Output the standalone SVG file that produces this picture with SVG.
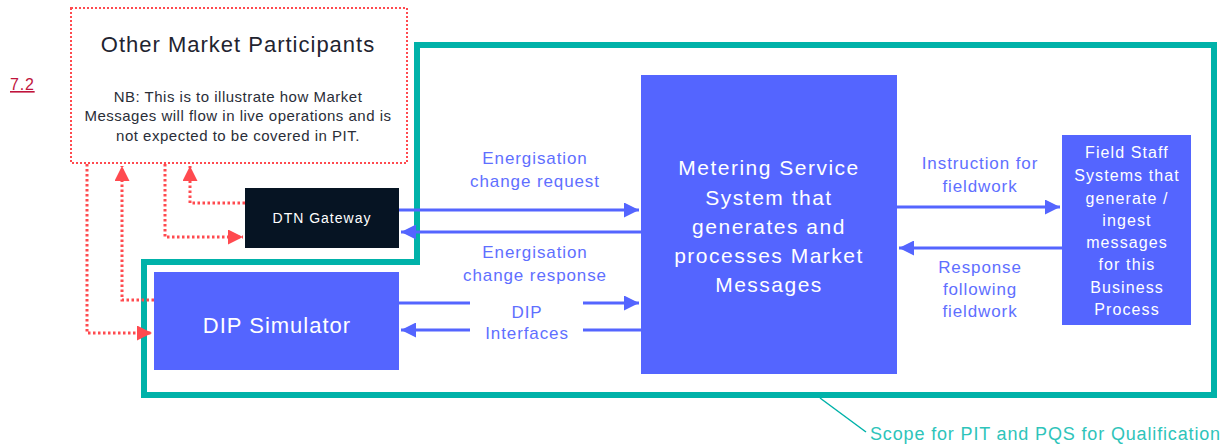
<svg xmlns="http://www.w3.org/2000/svg" width="1224" height="446" viewBox="0 0 1224 446">
<defs>
<style>
text{font-family:"Liberation Sans",Arial,sans-serif}
.lbl{fill:#5F6FFF;font-size:17px;letter-spacing:0.9px;text-anchor:middle}
.wt{fill:#FFFFFF;text-anchor:middle}
.red{fill:none;stroke:#FF4A4F;stroke-width:3;stroke-dasharray:2.5 2.5}
.blue{fill:none;stroke:#5465FF;stroke-width:3}
</style>
<marker id="ab" viewBox="0 0 10 10" refX="10" refY="5" markerWidth="5" markerHeight="5" orient="auto" markerUnits="strokeWidth"><path d="M0,0 L10,5 L0,10 z" fill="#5465FF"/></marker>
<marker id="ar" viewBox="0 0 10 10" refX="10" refY="5" markerWidth="5" markerHeight="5" orient="auto" markerUnits="strokeWidth"><path d="M0,0 L10,5 L0,10 z" fill="#FF4A4F"/></marker>
</defs>
<rect width="1224" height="446" fill="#FFFFFF"/>
<text x="10" y="90" font-size="16" letter-spacing="0.8" fill="#C0143C" text-decoration="underline">7.2</text>
<g id="scope">
<path d="M417,45 H1214 V395 H144 V262 H417 Z" fill="none" stroke="#00B2A9" stroke-width="6"/>
<path d="M820,398 L866,432" stroke="#00B2A9" stroke-width="1.5" fill="none"/>
<text x="870" y="440" font-size="18" letter-spacing="0.85" fill="#2EC4BA">Scope for PIT and PQS for Qualification</text>
</g>
<g id="other-market-participants">
<rect x="71" y="8" width="336" height="155" fill="#FFFFFF" stroke="#FF4A4F" stroke-width="2" stroke-dasharray="2 2"/>
<text x="238" y="52" font-size="22" letter-spacing="1" fill="#1F2430" text-anchor="middle">Other Market Participants</text>
<text font-size="15" letter-spacing="0.5" fill="#2A2E38" text-anchor="middle"><tspan x="238" y="102">NB: This is to illustrate how Market</tspan><tspan x="238" y="121">Messages will flow in live operations and is</tspan><tspan x="238" y="141">not expected to be covered in PIT.</tspan></text>
</g>
<g id="dtn-gateway">
<rect x="245" y="188" width="154" height="60" fill="#061423"/>
<text class="wt" x="322" y="223" font-size="14" letter-spacing="1" fill="#E8E8EE">DTN Gateway</text>
</g>
<g id="dip-simulator">
<rect x="154" y="272" width="245" height="98" fill="#5465FF"/>
<text class="wt" x="277" y="333" font-size="22" letter-spacing="1">DIP Simulator</text>
</g>
<g id="metering-service">
<rect x="641" y="75" width="256" height="299" fill="#5465FF"/>
<text class="wt" font-size="21" letter-spacing="1.5"><tspan x="769" y="175">Metering Service</tspan><tspan x="769" y="205">System that</tspan><tspan x="769" y="234">generates and</tspan><tspan x="769" y="263">processes Market</tspan><tspan x="769" y="292">Messages</tspan></text>
</g>
<g id="field-staff">
<rect x="1062" y="135" width="129" height="190" fill="#5465FF"/>
<text class="wt" font-size="16" letter-spacing="1.1"><tspan x="1127" y="158">Field Staff</tspan><tspan x="1127" y="181">Systems that</tspan><tspan x="1127" y="204">generate /</tspan><tspan x="1127" y="226">ingest</tspan><tspan x="1127" y="248">messages</tspan><tspan x="1127" y="270">for this</tspan><tspan x="1127" y="293">Business</tspan><tspan x="1127" y="315">Process</tspan></text>
</g>
<g id="connectors">
<path class="red" d="M245,203 H190 V166" marker-end="url(#ar)"/>
<path class="red" d="M165,164 V237 H243" marker-end="url(#ar)"/>
<path class="red" d="M154,300 H122 V166" marker-end="url(#ar)"/>
<path class="red" d="M87,164 V333 H152" marker-end="url(#ar)"/>
<path class="blue" d="M399,210 H639" marker-end="url(#ab)"/>
<path class="blue" d="M641,232 H401" marker-end="url(#ab)"/>
<path class="blue" d="M399,303 H470 M583,303 H639" marker-end="url(#ab)"/>
<path class="blue" d="M641,330 H583 M470,330 H401" marker-end="url(#ab)"/>
<path class="blue" d="M897,207 H1060" marker-end="url(#ab)"/>
<path class="blue" d="M1062,248 H899" marker-end="url(#ab)"/>
<text class="lbl"><tspan x="535" y="164">Energisation</tspan><tspan x="535" y="187">change request</tspan></text>
<text class="lbl"><tspan x="535" y="258">Energisation</tspan><tspan x="535" y="281">change response</tspan></text>
<text class="lbl"><tspan x="527" y="318">DIP</tspan><tspan x="527" y="339">Interfaces</tspan></text>
<text class="lbl"><tspan x="980" y="169">Instruction for</tspan><tspan x="980" y="192">fieldwork</tspan></text>
<text class="lbl"><tspan x="980" y="273">Response</tspan><tspan x="980" y="295">following</tspan><tspan x="980" y="317">fieldwork</tspan></text>
</g>
</svg>
